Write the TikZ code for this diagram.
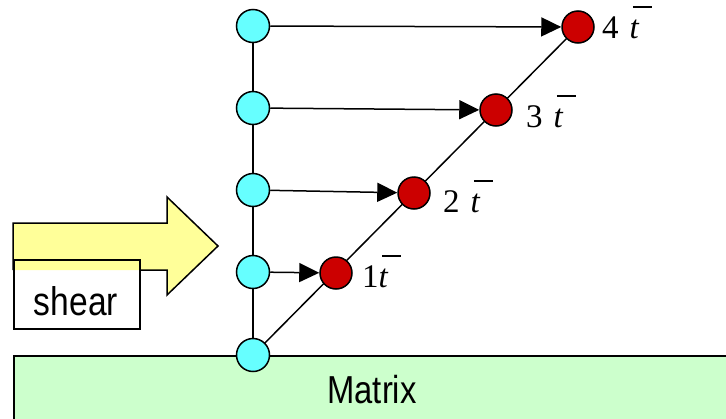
\documentclass[tikz,border=0pt]{standalone}
\usepackage{fontspec}
\setmainfont{Liberation Serif}
\newfontfamily\narrowsans[FakeStretch=0.84]{Liberation Sans}
\usetikzlibrary{arrows.meta,backgrounds}
\definecolor{cyanfill}{HTML}{66FFFF}
\definecolor{redfill}{HTML}{CC0000}
\definecolor{matrixgreen}{HTML}{CCFFCC}
\definecolor{arrowyellow}{HTML}{FFFF99}
\newcommand{\tbar}{\makebox[0pt][l]{\hspace{0.1em}\rule[0.9em]{0.58em}{0.06em}}\textit{t}}
\tikzset{
  plainline/.style={line width=1.5pt},
  bluedot/.style={circle,draw,line width=1.5pt,fill=cyanfill,minimum size=33pt,inner sep=0pt},
  reddot/.style={circle,draw,line width=1.5pt,fill=redfill,minimum size=32pt,inner sep=0pt},
  shiftarrow/.style={line width=1.5pt,-{Triangle[length=20pt,width=19pt]}},
  tlabel/.style={anchor=base west,inner sep=0pt,font=\fontsize{33}{36}\selectfont},
}
\begin{document}
\begin{tikzpicture}[x=1pt,y=-1pt]
\useasboundingbox (0,0) rectangle (726,418);
\clip (0,0) rectangle (726,418);
% matrix
\node[draw,line width=1.5pt,fill=matrixgreen,anchor=north west,minimum width=740pt,minimum height=80pt,inner sep=0pt] (matrix) at (13,355) {};
\node[font=\narrowsans\fontsize{39}{42}\selectfont,anchor=base,inner sep=0pt] (mtext) at (372,403) {Matrix};
% shear arrow
\fill[arrowyellow] (13,270) -- (13,223) -- (167,223) -- (167,197) -- (218,246) -- (167,295) -- (167,270) -- cycle;
\draw[line width=1.5pt,line join=miter] (139,270) -- (167,270) -- (167,295) -- (218,246) -- (167,197) -- (167,223) -- (13,223) -- (13,270);
\node[draw,line width=1.5pt,anchor=north west,minimum width=126pt,minimum height=69pt,inner sep=0pt] (shearbox) at (13,259) {};
\node[font=\narrowsans\fontsize{40}{44}\selectfont,anchor=base,inner sep=0pt] (sheartext) at (76,315) {shear};
% blue dots
\node[bluedot] (b1) at (253,26) {};
\node[bluedot] (b2) at (253,108) {};
\node[bluedot] (b3) at (253,190) {};
\node[bluedot] (b4) at (253,272) {};
\node[bluedot] (b5) at (253,355) {};
% red dots
\node[reddot] (r4) at (578,27) {};
\node[reddot] (r3) at (496,110) {};
\node[reddot] (r2) at (414,193) {};
\node[reddot] (r1) at (336,273) {};
\begin{scope}[on background layer]
\draw[plainline] (b1.center) -- (b5.center);
\draw[plainline] (b5.center) -- (r4.center);
\end{scope}
\draw[shiftarrow] (b1) -- (r4);
\draw[shiftarrow] (b2) -- (r3);
\draw[shiftarrow] (b3) -- (r2);
\draw[shiftarrow] (b4) -- (r1);
% labels
\node[tlabel] (l4) at (602,38) {4\hspace{0.33em}\tbar};
\node[tlabel] (l3) at (526,127) {3\hspace{0.33em}\tbar};
\node[tlabel] (l2) at (443,212) {2\hspace{0.33em}\tbar};
\node[tlabel] (l1) at (362,287) {1\tbar};
\end{tikzpicture}
\end{document}
